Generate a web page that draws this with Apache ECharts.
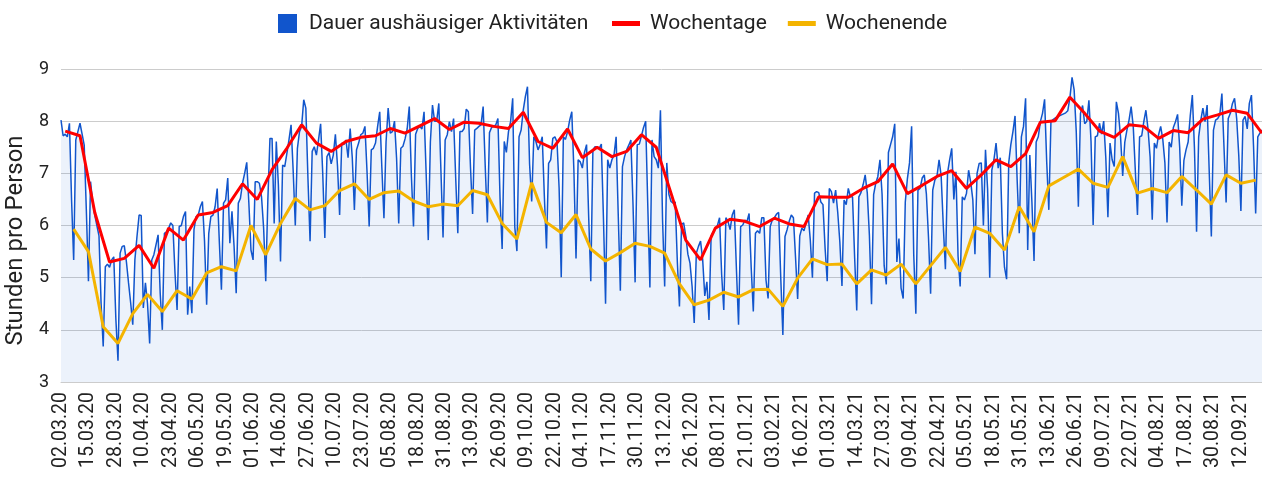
<!DOCTYPE html>
<html><head><meta charset="utf-8">
<script src="https://cdn.jsdelivr.net/npm/echarts@6/dist/echarts.min.js"></script>
<style>html,body{margin:0;padding:0;background:#fff}#c{width:1262px;height:477px}</style>
</head><body><div id="c"></div>
<script>
// first day of the series (Monday 02.03.2020); one category per day
const startDay = [2020, 3, 2];

// daily values, one line per week (Mon..Sun)
const dailyHours = [
8.02,7.72,7.75,7.70,7.96,6.50,5.34,
7.64,7.80,7.96,7.75,7.54,6.30,4.93,
6.84,6.45,6.20,6.00,5.80,4.50,3.68,
5.21,5.26,5.20,5.34,5.40,4.20,3.41,
5.47,5.60,5.61,5.30,4.90,4.52,4.10,
5.34,5.79,6.20,6.19,4.42,4.90,4.50,
3.74,5.34,5.44,5.63,5.82,4.70,4.00,
5.85,5.88,5.95,6.05,6.00,5.10,4.38,
5.98,6.00,6.17,6.27,4.29,4.83,4.32,
5.92,6.17,6.20,6.36,6.46,5.70,4.48,
5.85,6.17,6.20,6.36,6.71,5.70,4.77,
6.43,6.49,6.91,5.66,6.27,5.60,4.70,
6.43,6.52,6.81,7.00,7.21,6.43,5.53,
5.34,6.84,6.84,6.81,6.55,5.95,4.93,
6.49,7.67,7.67,6.04,7.61,6.77,5.31,
7.16,7.13,7.38,7.64,7.93,7.05,6.00,
7.48,7.80,7.90,8.41,8.25,6.90,5.70,
7.42,7.51,7.35,7.64,7.95,7.00,5.76,
7.32,7.40,7.18,7.35,7.75,7.14,6.20,
7.58,7.55,7.64,7.30,7.86,7.30,6.30,
7.45,7.58,7.74,7.77,7.90,7.02,5.98,
7.45,7.48,7.58,7.90,8.18,7.12,6.14,
7.60,8.25,7.77,7.80,8.00,7.28,6.04,
7.48,7.52,7.66,7.85,8.28,6.96,5.98,
7.75,7.86,7.90,7.85,8.18,7.00,5.72,
7.60,8.31,8.00,8.00,8.34,7.05,5.77,
7.64,7.74,7.99,7.80,8.05,6.91,5.85,
7.80,7.80,7.86,8.23,8.18,7.12,6.22,
7.83,7.86,7.90,7.93,8.28,7.12,6.06,
7.78,7.88,7.90,7.93,8.05,6.53,5.55,
7.61,7.40,7.80,7.99,8.44,5.97,5.51,
7.70,7.83,8.21,8.47,8.66,7.18,6.46,
7.70,7.61,7.45,7.55,7.70,6.56,5.56,
7.19,7.26,7.67,7.70,7.60,6.71,5.01,
7.70,7.65,7.80,8.02,8.18,7.05,5.37,
7.26,7.22,7.10,7.40,7.55,6.17,4.93,
7.45,7.51,7.50,7.48,7.56,6.14,4.50,
7.26,7.10,7.26,7.35,7.70,6.21,4.75,
7.13,7.32,7.45,7.54,7.64,6.41,4.91,
7.55,7.56,7.72,7.88,8.00,6.39,4.81,
7.64,7.32,7.26,7.10,8.21,6.11,4.83,
7.20,6.60,6.46,6.43,6.45,5.31,4.45,
6.02,6.05,5.80,5.45,5.28,4.83,4.13,
5.47,5.60,5.70,5.35,4.65,4.92,4.19,
5.80,5.88,5.95,6.00,6.15,5.06,4.38,
6.15,6.08,5.92,6.20,6.30,5.16,4.10,
5.98,6.01,6.10,6.08,6.23,5.19,4.35,
5.85,5.90,5.85,6.15,6.15,4.96,4.60,
5.98,6.11,6.15,6.22,6.25,5.00,3.90,
5.79,5.92,6.08,6.20,6.15,5.39,4.59,
5.80,5.95,5.90,6.05,6.20,5.72,5.00,
6.62,6.65,6.63,6.45,6.40,5.57,4.93,
6.71,6.65,6.43,6.68,6.25,5.68,4.84,
6.49,6.40,6.71,6.55,6.55,5.39,4.37,
6.55,6.63,6.78,6.97,6.62,5.81,4.49,
6.59,6.81,6.94,7.26,6.60,5.23,4.87,
7.40,7.55,7.70,7.95,5.30,5.75,4.80,
4.60,6.45,6.90,7.20,7.90,5.45,4.31,
6.68,6.71,6.91,6.97,6.60,5.77,4.69,
6.68,6.87,6.94,7.26,6.95,6.00,5.16,
7.00,7.26,7.48,6.50,7.03,5.41,4.83,
6.55,6.49,6.62,7.06,6.83,6.49,5.45,
7.00,7.19,7.20,6.00,7.45,6.70,5.00,
7.06,7.26,7.58,7.10,7.30,5.85,5.20,
4.97,7.20,7.55,7.80,8.10,6.87,5.85,
7.70,7.90,8.44,5.53,7.35,6.44,5.32,
7.60,7.70,7.99,8.15,8.42,7.22,6.30,
7.99,8.03,8.06,8.08,8.10,8.12,8.14,
8.16,8.20,8.45,8.84,8.60,7.80,6.36,
8.15,8.30,7.95,8.00,8.40,7.61,6.01,
7.70,7.72,7.96,7.75,8.00,7.30,6.16,
7.58,7.26,7.13,8.37,8.15,7.69,6.95,
7.60,7.83,8.02,8.28,7.90,7.04,6.20,
7.70,7.72,7.99,8.21,7.85,7.31,6.11,
7.58,7.48,7.74,7.90,7.65,7.20,6.06,
7.60,7.50,7.88,7.99,8.13,7.50,6.38,
7.25,7.45,7.60,8.10,8.50,7.48,5.88,
7.70,8.02,8.25,7.99,8.31,7.03,5.79,
7.83,8.02,8.05,8.12,8.53,7.50,6.44,
8.05,8.15,8.34,8.44,8.05,7.34,6.28,
8.02,8.09,7.85,8.34,8.50,7.51,6.23,
7.70,7.77,7.83
];

// weekly averages of weekdays (one per week, shown on the Wednesday)
const weekdayAvg = [
7.81,7.72,6.25,5.30,5.37,5.62,5.18,5.95,5.72,6.20,
6.25,6.38,6.80,6.50,7.07,7.48,7.93,7.58,7.42,7.61,
7.69,7.72,7.86,7.77,7.91,8.05,7.84,7.98,7.96,7.90,
7.86,8.17,7.61,7.48,7.85,7.30,7.50,7.32,7.42,7.74,
7.50,6.62,5.72,5.34,5.95,6.12,6.08,5.98,6.14,6.03,
5.98,6.55,6.54,6.54,6.71,6.84,7.18,6.61,6.77,6.94,
7.05,6.71,6.97,7.26,7.13,7.38,7.98,8.01,8.46,8.15,
7.81,7.69,7.93,7.90,7.67,7.82,7.78,8.04,8.12,8.21,
8.15,7.77
];

// weekly averages of weekend days (one per week, shown on the Sunday)
const weekendAvg = [
5.93,5.50,4.06,3.74,4.31,4.68,4.35,4.75,4.59,5.09,
5.21,5.13,6.00,5.44,6.04,6.52,6.30,6.38,6.67,6.80,
6.50,6.63,6.66,6.47,6.36,6.41,6.38,6.67,6.59,6.04,
5.74,6.82,6.06,5.86,6.21,5.55,5.32,5.48,5.66,5.60,
5.47,4.88,4.48,4.57,4.72,4.63,4.77,4.78,4.45,4.99,
5.36,5.25,5.26,4.88,5.15,5.05,5.26,4.88,5.23,5.58,
5.12,5.97,5.85,5.53,6.36,5.88,6.76,6.92,7.08,6.81,
6.73,7.32,6.62,6.71,6.63,6.94,6.68,6.41,6.97,6.81,
6.87
];

const yTicks = {min: 3, max: 9, step: 1};
const labelEvery = 13; // one date label every 13 days

// build categories (dd.mm.yy)
function pad(n){return (n<10?'0':'')+n;}
const categories = dailyHours.map((v, i) => {
  const d = new Date(Date.UTC(startDay[0], startDay[1]-1, startDay[2] + i));
  return pad(d.getUTCDate()) + '.' + pad(d.getUTCMonth()+1) + '.' + String(d.getUTCFullYear()).slice(2);
});

// weekly series on the day categories (Wednesday / Sunday of each week)
const weekdayData = categories.map(() => null);
weekdayAvg.forEach((v, k) => { const i = Math.min(k*7 + 2, categories.length-1); weekdayData[i] = v; });
const weekendData = categories.map(() => null);
weekendAvg.forEach((v, k) => { const i = k*7 + 6; if (i < categories.length) weekendData[i] = v; });

const FONT = 'Roboto, "Noto Sans", sans-serif';
const blue = '#1155cc', red = '#ff0000', yellow = '#f4b400';

const chart = echarts.init(document.getElementById('c'), null, {renderer: 'canvas'});
chart.setOption({
  animation: false,
  backgroundColor: '#ffffff',
  textStyle: {fontFamily: FONT},
  grid: {left: 61, right: 0, top: 69, bottom: 95, containLabel: false, outerBoundsMode: 'none'},
  legend: [
    {
      data: [{name: 'Dauer aushäusiger Aktivitäten', icon: 'rect'}],
      left: 278, top: 13, padding: 0,
      itemWidth: 19, itemHeight: 19,
      textStyle: {fontSize: 21, color: '#222', fontFamily: FONT, padding: [0, 0, 0, 7]}
    },
    {
      data: [
        {name: 'Wochentage', icon: 'path://M0 0H28V5H0Z'},
        {name: 'Wochenende', icon: 'path://M0 0H28V5H0Z'}
      ],
      left: 612, top: 13, padding: 0,
      itemWidth: 28, itemHeight: 5, itemGap: 21,
      textStyle: {fontSize: 21, color: '#222', fontFamily: FONT, padding: [0, 0, 0, 5], height: 19, lineHeight: 19}
    }
  ],
  xAxis: {
    type: 'category',
    data: categories,
    boundaryGap: false,
    axisLine: {show: true, lineStyle: {color: '#cccccc', width: 1}},
    axisTick: {show: false},
    splitLine: {show: false},
    axisLabel: {interval: labelEvery - 1, rotate: 90, fontSize: 19.5, color: '#222', margin: 10, fontFamily: FONT}
  },
  yAxis: {
    type: 'value',
    min: yTicks.min, max: yTicks.max, interval: yTicks.step,
    name: 'Stunden pro Person',
    nameLocation: 'middle', nameGap: 31,
    nameTextStyle: {fontSize: 24, color: '#222', fontFamily: FONT, padding: [0, 30, 0, 0]},
    axisLine: {show: false}, axisTick: {show: false},
    axisLabel: {fontSize: 18, color: '#222', margin: 12, fontFamily: FONT},
    splitLine: {lineStyle: {color: '#cccccc', width: 1}}
  },
  series: [
    {
      name: 'Dauer aushäusiger Aktivitäten', type: 'line', data: dailyHours,
      symbol: 'none', connectNulls: true,
      lineStyle: {width: 1.5, color: blue}, itemStyle: {color: blue},
      areaStyle: {color: 'rgba(17,85,204,0.11)', origin: 'start'},
      z: 2
    },
    {
      name: 'Wochentage', type: 'line', data: weekdayData, connectNulls: true,
      symbol: 'none', lineStyle: {width: 3, color: red}, itemStyle: {color: red}, z: 4
    },
    {
      name: 'Wochenende', type: 'line', data: weekendData, connectNulls: true,
      symbol: 'none', lineStyle: {width: 3, color: yellow}, itemStyle: {color: yellow}, z: 3
    }
  ]
});
</script>
</body></html>
